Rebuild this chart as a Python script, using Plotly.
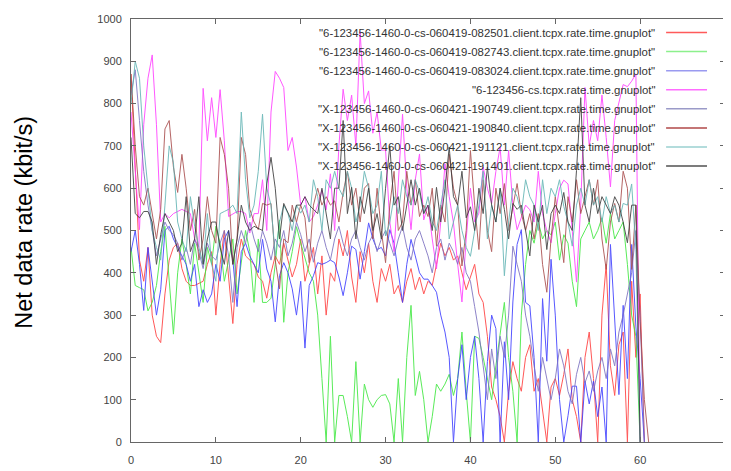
import plotly.graph_objects as go

times = [0, 0.5, 1, 1.5, 2, 2.5, 3, 3.5, 4, 4.5, 5, 5.5, 6, 6.5, 7, 7.5, 8, 8.5, 9, 9.5,
         10, 10.5, 11, 11.5, 12, 12.5, 13, 13.5, 14, 14.5, 15, 15.5, 16, 16.5, 17, 17.5, 18, 18.5, 19, 19.5,
         20, 20.5, 21, 21.5, 22, 22.5, 23, 23.5, 24, 24.5, 25, 25.5, 26, 26.5, 27, 27.5, 28, 28.5, 29, 29.5,
         30, 30.5, 31, 31.5, 32, 32.5, 33, 33.5, 34, 34.5, 35, 35.5, 36, 36.5, 37, 37.5, 38, 38.5, 39, 39.5,
         40, 40.5, 41, 41.5, 42, 42.5, 43, 43.5, 44, 44.5, 45, 45.5, 46, 46.5, 47, 47.5, 48, 48.5, 49, 49.5,
         50, 50.5, 51, 51.5, 52, 52.5, 53, 53.5, 54, 54.5, 55, 55.5, 56, 56.5, 57, 57.5, 58, 58.5, 59, 59.5,
         60, 60.5, 61]

s_082501 = [870, 650, 430, 380, 460, 300, 250, 235, 350, 430,
            460, 470, 410, 380, 370, 370, 375, 380, 420, 450,
            300, 420, 500, 390, 280, 420, 480, 440, 430, 420,
            390, 380, 340, 400, 440, 420, 470, 430, 390, 420,
            480, 380, 420, 460, 350, 440, 300, 400, 380, 480,
            440, 500, 390, 330, 450, 400, 470, 380, 330, 410,
            380, 420, 350, 370, 330, 380, 410, 360, 390, 350,
            380, 370, 420, 470, 440, 460, 430, 440, 400, 360,
            390, 420, 350, 330, 250, 130, 100, 60, 0, 120,
            190, 150, 120, 200, 230, 120, 150, 80, 0, 130,
            150, 110, 160, 220, 100, 60, 0, 200, 260, 150,
            0, 300, 420, 180, 110, 230, 260, 0, 380, 200,
            350, 0, None]

s_082743 = [460, 370, 365, 360, 310, 330, 370, 450, 510, 380,
            255, 400, 480, 420, 350, 470, 400, 330, 460, 420,
            510, 470, 380, 430, 480, 350, 420, 500, 450, 330,
            480, 330, 330, 340, 420, 525, 283, 400, 450, 509,
            470, 432, 400, 380, 300, 150, 0, 250, 0, 110,
            110, 60, 0, 190, 0, 137, 100, 82, 100, 110,
            112, 90, 0, 150, 0, 200, 323, 110, 167, 100,
            0, 60, 137, 120, 137, 160, 110, 150, 260, 120,
            0, 250, 245, 200, 150, 100, 180, 250, 330, 200,
            120, 0, 300, 420, 500, 470, 520, 480, 500, 490,
            520, 430, 490, 470, 380, 320, 480, 500, 520, 480,
            500, 530, 470, 540, 480, 500, 520, 420, 300, 250,
            0, None, None]

s_083024 = [450, 500, 420, 311, 460, 380, 300, 360, 500, 510,
            480, 460, 440, 420, 380, 420, 320, 360, 330, 350,
            420, 380, 480, 500, 430, 320, 450, 470, 440, 420,
            400, 479, 409, 380, 284, 393, 424, 400, 362, 300,
            380, 222, 370, 393, 424, 420, 424, 430, 424, 390,
            346, 400, 463, 455, 385, 450, 518, 480, 455, 460,
            440, 502, 470, 400, 330, 420, 479, 440, 400, 385,
            385, 370, 354, 300, 260, 200, 0, 150, 230, 100,
            200, 250, 150, 0, 190, 300, 268, 0, 237, 100,
            331, 467, 502, 330, 322, 200, 0, 339, 191, 432,
            300, 100, 0, 62, 132, 132, 0, 144, 90, 144,
            60, 130, 0, 467, 300, 112, 323, 150, 467, 272,
            150, 0, None]

s_cs = [780, 650, 502, 750, 860, 915, 750, 520, 540, 530,
        540, 545, 550, 545, 540, 480, 460, 836, 712, 814,
        720, 833, 712, 533, 540, 545, 545, 540, 494, 540,
        540, 620, 500, 780, 876, 860, 838, 689, 720, 650,
        560, 580, 520, 533, 560, 596, 549, 634, 500, 700,
        834, 760, 820, 700, 970, 800, 830, 730, 780, 690,
        690, 520, 450, 600, 775, 600, 502, 620, 681, 525,
        560, 480, 409, 520, 658, 580, 518, 420, 331, 480,
        600, 520, 541, 650, 600, 564, 640, 697, 560, 689,
        560, 502, 530, 560, 549, 520, 640, 540, 500, 471,
        540, 600, 619, 610, 500, 378, 560, 838, 700, 760,
        712, 820, 720, 603, 760, 806, 845, 840, 853, 870,
        0, None, None]

s_190749 = [820, 880, 760, 640, 560, 500, 440, 480, 520, 500,
            490, 470, 430, 460, 420, 480, 450, 410, 470, 440,
            430, 470, 500, 440, 330, 460, 500, 470, 520, 480,
            450, 500, 470, 430, 480, 460, 500, 440, 470, 520,
            490, 450, 480, 425, 470, 500, 460, 430, 480, 510,
            470, 440, 480, 500, 460, 430, 470, 490, 450, 480,
            500, 470, 440, 480, 510, 460, 430, 480, 500, 470,
            440, 400, 460, 480, 430, 470, 450, 420, 460, 400,
            380, 320, 260, 180, 100, 220, 150, 250, 200, 300,
            463, 420, 380, 300, 250, 180, 120, 200, 150, 100,
            150, 220, 180, 120, 90, 160, 200, 140, 168, 120,
            168, 200, 150, 220, 180, 260, 300, 350, 400, 500,
            300, 0, None]

s_190840 = [870, 700, 580, 560, 600, 540, 480, 550, 740, 760,
            650, 590, 680, 600, 500, 550, 430, 480, 580, 500,
            470, 720, 680, 600, 420, 480, 720, 680, 550, 520,
            502, 564, 560, 564, 430, 362, 480, 471, 560, 520,
            560, 530, 424, 560, 600, 560, 580, 560, 570, 520,
            590, 640, 560, 600, 520, 600, 611, 480, 600, 500,
            424, 560, 640, 500, 520, 640, 560, 620, 533, 560,
            533, 600, 463, 560, 520, 680, 600, 560, 416, 500,
            689, 560, 455, 620, 500, 450, 600, 540, 611, 500,
            560, 611, 540, 500, 540, 480, 540, 420, 354, 480,
            580, 500, 424, 580, 520, 620, 540, 580, 620, 560,
            620, 480, 408, 520, 564, 520, 640, 600, 408, 560,
            284, 100, 0]

s_191121 = [800, 900, 860, 700, 600, 500, 460, 430, 560, 700,
            660, 520, 480, 450, 580, 510, 460, 420, 540, 420,
            380, 540, 545, 550, 560, 540, 780, 620, 530, 560,
            640, 775, 600, 560, 440, 520, 560, 540, 500, 560,
            541, 560, 520, 620, 580, 500, 620, 600, 640, 600,
            580, 640, 600, 520, 560, 640, 600, 540, 560, 640,
            487, 520, 580, 540, 620, 580, 560, 620, 590, 540,
            580, 520, 500, 560, 620, 480, 520, 560, 500, 460,
            439, 500, 560, 640, 480, 560, 520, 600, 393, 520,
            600, 580, 540, 620, 580, 560, 500, 620, 540, 600,
            580, 620, 557, 520, 463, 560, 600, 560, 620, 560,
            580, 520, 580, 540, 560, 520, 564, 560, 610, 455,
            0, None, None]

s_191401 = [720, 540, 530, 545, 545, 520, 420, 490, 540, 520,
            500, 450, 470, 580, 450, 480, 580, 420, 480, 520,
            520, 460, 420, 500, 420, 480, 560, 520, 500, 510,
            505, 500, 610, 673, 600, 480, 564, 540, 520, 560,
            560, 580, 560, 550, 540, 600, 540, 480, 600, 600,
            760, 540, 602, 480, 580, 540, 600, 500, 540, 480,
            600, 700, 560, 580, 500, 560, 620, 560, 600, 540,
            560, 500, 602, 520, 600, 697, 580, 560, 640, 530,
            556, 500, 600, 540, 650, 560, 520, 600, 550, 480,
            564, 550, 560, 500, 440, 560, 520, 560, 455, 540,
            560, 540, 590, 520, 500, 642, 814, 560, 520, 600,
            540, 580, 560, 540, 580, 560, 520, 471, 560, 560,
            0, None, None]

series_names = [
    '"6-123456-1460-0-cs-060419-082501.client.tcpx.rate.time.gnuplot"',
    '"6-123456-1460-0-cs-060419-082743.client.tcpx.rate.time.gnuplot"',
    '"6-123456-1460-0-cs-060419-083024.client.tcpx.rate.time.gnuplot"',
    '"6-123456-cs.tcpx.rate.time.gnuplot"',
    '"X-123456-1460-0-cs-060421-190749.client.tcpx.rate.time.gnuplot"',
    '"X-123456-1460-0-cs-060421-190840.client.tcpx.rate.time.gnuplot"',
    '"X-123456-1460-0-cs-060421-191121.client.tcpx.rate.time.gnuplot"',
    '"X-123456-1460-0-cs-060421-191401.client.tcpx.rate.time.gnuplot"',
]
series_values = [s_082501, s_082743, s_083024, s_cs, s_190749, s_190840, s_191121, s_191401]
colors = ['#ff3b3b', '#3de83d', '#3b3bff', '#ff3bff', '#7b6fc0', '#a84a4a', '#5fb3b3', '#3a3a3a']
legend_colors = ['#ff5a5a', '#8cf08c', '#9a9af0', '#ff6cff', '#9a9ac8', '#b04848', '#9ad0d0', '#505050']

x_ticks = [0, 10, 20, 30, 40, 50, 60, 70]
y_ticks = [0, 100, 200, 300, 400, 500, 600, 700, 800, 900, 1000]
y_title = "Net data rate (kbit/s)"

fig = go.Figure()
for name, vals, col in zip(series_names, series_values, colors):
    fig.add_trace(go.Scatter(x=times, y=vals, mode="lines", name=name,
                             line=dict(color=col, width=1), opacity=0.85,
                             showlegend=False, connectgaps=False))

# page body has an 8px margin; target positions are in window pixels
OX, OY = 8, 8
W, H = 731 - OX, 471 - OY
plot_left, plot_right, plot_top, plot_bottom = 131, 726, 17, 445
L = plot_left - OX
R = W - (plot_right - OX)
T = plot_top - OY
B = H - (plot_bottom - OY)
pw = plot_right - plot_left
ph = plot_bottom - plot_top


def px_to_paper_x(px):
    return (px - plot_left) / pw


def px_to_paper_y(py):
    return (plot_bottom - py) / ph


annotations = []
shapes = []
for i, (name, lc) in enumerate(zip(series_names, legend_colors)):
    yp = px_to_paper_y(30.7 + 19.3 * i)
    annotations.append(dict(text=name, xref="paper", yref="paper",
                            x=px_to_paper_x(658), y=yp, xanchor="right", yanchor="middle",
                            showarrow=False,
                            font=dict(family="Liberation Sans, Arial", size=11.4, color="#333333")))
    shapes.append(dict(type="line", xref="paper", yref="paper",
                       x0=px_to_paper_x(667), x1=px_to_paper_x(708), y0=yp, y1=yp,
                       line=dict(color=lc, width=1.5)))

annotations.append(dict(text=y_title, xref="paper", yref="paper",
                        x=px_to_paper_x(23), y=px_to_paper_y(223), xanchor="center", yanchor="middle",
                        textangle=-90, showarrow=False,
                        font=dict(family="Liberation Sans, Arial", size=23.5, color="#000000")))

axis_common = dict(showline=True, linecolor="#666666", linewidth=1, mirror="ticks",
                   ticks="inside", ticklen=5, tickcolor="#666666", tickwidth=1,
                   showgrid=False, zeroline=False,
                   tickfont=dict(family="Liberation Sans, Arial", size=11, color="#444444"))

fig.update_layout(
    width=W, height=H,
    margin=dict(l=L, r=R, t=T, b=B, pad=0),
    paper_bgcolor="white", plot_bgcolor="white",
    xaxis=dict(range=[0, 70], tickvals=x_ticks, ticktext=[str(v) for v in x_ticks],
               ticklabelstandoff=8, **axis_common),
    yaxis=dict(range=[0, 1000], tickvals=y_ticks, ticktext=[str(v) for v in y_ticks],
               ticklabelstandoff=6, **axis_common),
    annotations=annotations, shapes=shapes,
    showlegend=False,
)

fig.write_html("out.html")
